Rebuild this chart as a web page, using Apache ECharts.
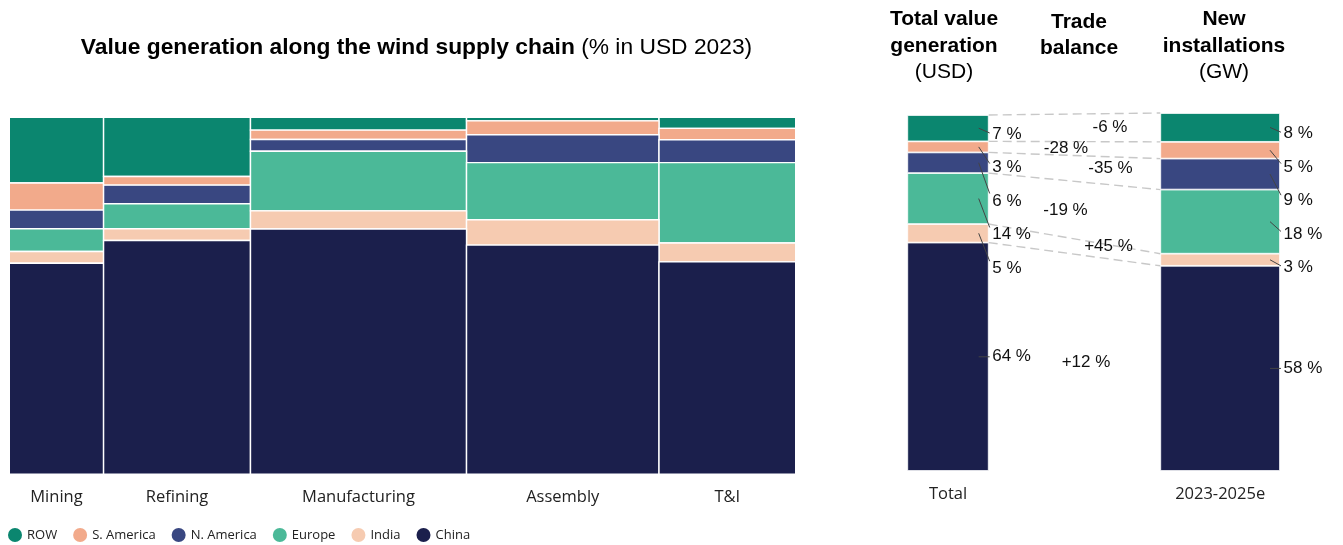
<!DOCTYPE html>
<html><head><meta charset="utf-8">
<script src="https://cdn.jsdelivr.net/npm/echarts@6/dist/echarts.min.js"></script>
<style>html,body{margin:0;padding:0;background:#fff}#c{width:1343px;height:545px}</style>
</head><body><div id="c"></div>
<script>
// ---------- data ----------
const regions = ['ROW', 'S. America', 'N. America', 'Europe', 'India', 'China'];
const stages = ['Mining', 'Refining', 'Manufacturing', 'Assembly', 'T&I'];
const stageShare = [12.0, 18.7, 27.5, 24.5, 17.4];           // column widths (% of total value)
const rowShare = [18.4, 16.6, 3.6, 1.0, 3.1];
const sAmericaShare = [7.6, 2.4, 2.6, 3.9, 3.2];
const nAmericaShare = [5.2, 5.2, 3.3, 7.8, 6.4];
const europeShare = [6.4, 7.0, 16.7, 16.0, 22.5];
const indiaShare = [3.3, 3.3, 5.1, 7.1, 5.3];
const chinaShare = [59.1, 65.5, 68.7, 64.2, 59.5];
const totalValue = [7.4, 3.1, 5.8, 14.3, 5.2, 64.1];        // ROW..China
const newInstall = [8.1, 4.7, 8.7, 18.0, 3.4, 57.6];        // ROW..China
const tradeBalance = [-6, -28, -35, -19, 45, 12];           // ROW..China
const totalCategory = ['Total'];
const newCategory = ['2023-2025e'];

// ---------- style ----------
const colors = ['#0B866F', '#F2AA8B', '#394781', '#4BB998', '#F6CBB1', '#1B1F4C'];
const sansFont = '"Liberation Sans", Arial, sans-serif';
const uiFont = '"Open Sans", "Noto Sans", sans-serif';
const G0 = {left: 9.3, top: 117.3, width: 786.4, height: 357};
const G1 = {left: 907.3, top: 115, width: 81.4, height: 356};
const G2 = {left: 1160.3, top: 113, width: 119.7, height: 358};
const tradeDx = [35.5, -8.5, 36, -9, 34, 11.5];

const regionShares = [rowShare, sAmericaShare, nAmericaShare, europeShare, indiaShare, chinaShare];
const sum = a => a.reduce((s, v) => s + v, 0);

// column x extents
const colStart = [];
{ let acc = 0; stageShare.forEach(w => { colStart.push(acc); acc += w; }); }

// marimekko rect data per region: [x0, x1, y0, y1]
function rectData(ri) {
  return stages.map((s, j) => {
    let below = 0;
    for (let k = ri + 1; k < regions.length; k++) below += regionShares[k][j];
    return [colStart[j], colStart[j] + stageShare[j], below, below + regionShares[ri][j]];
  });
}

function midValues(vals) {
  return vals.map((v, i) => {
    let below = 0;
    for (let k = i + 1; k < vals.length; k++) below += vals[k];
    return below + v / 2;
  });
}

function leaderSeries(axisIdx, vals) {
  const mids = midValues(vals);
  return {
    type: 'custom', name: 'lbl' + axisIdx, xAxisIndex: axisIdx, yAxisIndex: axisIdx,
    silent: true, z: 5,
    data: vals.map((v, i) => [0, mids[i], i]),
    encode: {x: 0, y: 1},
    renderItem(params, api) {
      const k = api.value(2);
      let ly = 0, midY = 0;
      for (let j = 0; j <= k; j++) {
        midY = api.coord([0, mids[j]])[1];
        ly = j === 0 ? midY + 6 : Math.max(midY, ly + 33.5);
      }
      const c = api.coord([0, mids[k]]);
      const right = c[0] + api.size([1, 0])[0] / 2;
      const endY = midY + (ly - midY) * 0.8;
      return {type: 'group', children: [
        {type: 'line', shape: {x1: right - 10, y1: midY, x2: right + 1, y2: endY},
         style: {stroke: '#444', lineWidth: 1}},
        {type: 'text', x: right + 3.5, y: ly,
         style: {text: Math.round(vals[k]) + ' %', font: '17px ' + sansFont, fill: '#111',
                 verticalAlign: 'middle', align: 'left'}}
      ]};
    }
  };
}

const series = [];
// marimekko
regions.forEach((r, ri) => {
  series.push({
    type: 'custom', name: r, xAxisIndex: 0, yAxisIndex: 0,
    itemStyle: {color: colors[ri]},
    data: rectData(ri),
    encode: {x: [0, 1], y: [2, 3]},
    renderItem(params, api) {
      const p0 = api.coord([api.value(0), api.value(3)]);
      const p1 = api.coord([api.value(1), api.value(2)]);
      return {type: 'rect',
        shape: {x: p0[0], y: p0[1], width: p1[0] - p0[0], height: p1[1] - p0[1]},
        style: {fill: api.visual('color'), stroke: '#fff', lineWidth: 1.4}};
    }
  });
});
// stage labels
series.push({
  type: 'custom', name: 'stageLabels', xAxisIndex: 0, yAxisIndex: 0, silent: true,
  data: stages.map((s, j) => [colStart[j] + stageShare[j] / 2, 0, j]),
  encode: {x: 0, y: 1},
  renderItem(params, api) {
    const p = api.coord([api.value(0), 0]);
    return {type: 'text', x: p[0], y: p[1] + 23,
      style: {text: stages[api.value(2)], font: '16.5px ' + uiFont, fill: '#222',
              align: 'center', verticalAlign: 'middle'}};
  }
});
// stacked bars (bottom first)
for (let ri = regions.length - 1; ri >= 0; ri--) {
  series.push({type: 'bar', name: regions[ri], xAxisIndex: 1, yAxisIndex: 1, stack: 'tot',
    barWidth: '100%', data: [totalValue[ri]],
    itemStyle: {color: colors[ri], borderColor: '#fff', borderWidth: 0.8}});
  series.push({type: 'bar', name: regions[ri], xAxisIndex: 2, yAxisIndex: 2, stack: 'new',
    barWidth: '100%', data: [newInstall[ri]],
    itemStyle: {color: colors[ri], borderColor: '#fff', borderWidth: 0.8}});
}
series.push(leaderSeries(1, totalValue));
series.push(leaderSeries(2, newInstall));

const hiddenVal = (max) => ({type: 'value', min: 0, max, show: false});
const catAxis = (gi, data) => ({type: 'category', gridIndex: gi, data,
  axisLine: {show: false}, axisTick: {show: false},
  axisLabel: {margin: 15, fontFamily: uiFont, fontSize: 16.5, color: '#222'}});

const option = {
  animation: false,
  backgroundColor: '#fff',
  grid: [
    Object.assign({}, G0),
    Object.assign({}, G1),
    Object.assign({}, G2)
  ],
  xAxis: [
    {type: 'value', gridIndex: 0, min: 0, max: sum(stageShare), show: false},
    catAxis(1, totalCategory),
    catAxis(2, newCategory)
  ],
  yAxis: [
    Object.assign(hiddenVal(100), {gridIndex: 0}),
    Object.assign(hiddenVal(sum(totalValue)), {gridIndex: 1}),
    Object.assign(hiddenVal(sum(newInstall)), {gridIndex: 2})
  ],
  legend: {
    data: regions, left: 8, top: 528, icon: 'circle', itemWidth: 14, itemHeight: 14,
    itemGap: 16, padding: 0, selectedMode: false,
    textStyle: {fontFamily: uiFont, fontSize: 13, color: '#222'}
  },
  series
};

const chart = echarts.init(document.getElementById('c'), null, {renderer: 'canvas'});
chart.setOption(option);

// connectors and trade balance (positions via library scales)
const cumTop = vals => vals.map((v, i) => sum(vals.slice(i)));
const topL = cumTop(totalValue), topR = cumTop(newInstall);
const xL = G1.left + G1.width, xR = G2.left;
const pyL = v => chart.convertToPixel({yAxisIndex: 1}, v);
const pyR = v => chart.convertToPixel({yAxisIndex: 2}, v);
const graphic = [];
regions.forEach((r, i) => {
  graphic.push({type: 'line', silent: true, z: 1,
    shape: {x1: xL, y1: pyL(topL[i]), x2: xR, y2: pyR(topR[i])},
    style: {stroke: '#c8c8c8', lineWidth: 1.4, lineDash: [9, 5]}});
  const botL = i + 1 < regions.length ? topL[i + 1] : 0;
  const botR = i + 1 < regions.length ? topR[i + 1] : 0;
  const y = (pyL(topL[i]) + pyR(topR[i]) + pyL(botL) + pyR(botR)) / 4;
  const t = tradeBalance[i];
  graphic.push({type: 'text', silent: true, z: 10, x: (xL + xR) / 2 + tradeDx[i], y,
    style: {text: (t > 0 ? '+' : '') + t + ' %', font: '17px ' + sansFont, fill: '#111',
            align: 'center', verticalAlign: 'middle'}});
});
// titles
graphic.push({type: 'text', x: 416.5, y: 48, silent: true,
  style: {text: '{b|Value generation along the wind supply chain}{n|\u00a0(% in USD 2023)}',
    align: 'center', verticalAlign: 'middle',
    rich: {b: {font: 'bold 22.8px ' + sansFont, fill: '#000'}, n: {font: '22.8px ' + sansFont, fill: '#000'}}}});
const header = (x, y, txt, bold) => graphic.push({type: 'text', x, y, silent: true,
  style: {text: txt, font: (bold ? 'bold ' : '') + '21px ' + sansFont, fill: '#000',
          align: 'center', verticalAlign: 'middle'}});
header(944, 19, 'Total value', true);
header(944, 46, 'generation', true);
header(944, 72.5, '(USD)', false);
header(1079, 22, 'Trade', true);
header(1079, 48, 'balance', true);
header(1224, 19, 'New', true);
header(1224, 46, 'installations', true);
header(1224, 72.5, '(GW)', false);
chart.setOption({graphic});
</script></body></html>
